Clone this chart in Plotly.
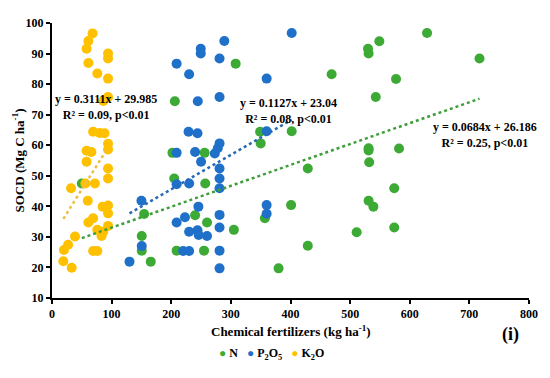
import plotly.graph_objects as go

# ---- data ----
n_x = [50, 150.5, 150.5, 154.5, 165.6, 202, 205, 206, 209, 240, 255, 256, 257, 260, 305, 308,
       349, 350, 357, 380, 401, 402, 429, 429, 469, 511, 530, 531, 531, 531, 532, 531, 539,
       543, 549, 574, 574, 577, 582, 629, 717]
n_y = [47.5, 30.3, 25.5, 37.5, 21.9, 57.5, 49.1, 74.4, 25.5, 37.1, 25.5, 57.5, 47.5, 34.7, 32.3, 86.7,
       64.4, 60.6, 36.1, 19.7, 40.4, 64.6, 52.4, 27.1, 83.2, 31.5, 91.6, 90.0, 59.0, 58.3, 54.4, 41.8, 39.9,
       75.8, 94.0, 45.9, 33.1, 81.7, 58.9, 96.7, 88.4]

p_x = [130, 150.5, 150, 209, 209, 209, 209, 220, 223, 230, 230, 230, 230, 240, 229, 244, 244.5,
       244, 245.5, 246, 249.5, 249.5, 250, 260, 273, 278, 281, 281, 281, 281, 281, 281, 281, 281,
       281, 281, 289, 360, 360, 360, 360, 402]
p_y = [21.9, 27.0, 41.8, 86.7, 57.5, 47.2, 34.7, 25.4, 36.4, 83.2, 47.5, 31.7, 25.4, 57.8, 64.4, 63.9, 74.4,
       32.2, 39.9, 30.6, 91.6, 90.0, 54.6, 30.3, 57.3, 59.0, 60.6, 88.4, 75.8, 52.4, 49.1, 45.9, 37.2, 33.1,
       25.5, 19.7, 94.1, 81.8, 64.6, 40.4, 37.6, 96.7]

k_x = [68, 61, 58, 94, 94, 61, 76, 94, 94, 86, 69, 80, 88, 94, 94, 58, 66, 58, 94, 94, 56, 72,
       32, 60, 85, 94, 94, 69, 61, 94, 76, 86, 83, 38.6, 27, 20, 69, 76, 19, 33]
k_y = [96.6, 94.1, 91.6, 90.0, 88.4, 86.9, 83.5, 81.8, 75.8, 74.5, 64.4, 64.0, 63.9, 60.5, 58.6, 58.2, 57.8,
       54.6, 52.4, 49.1, 47.5, 47.5, 45.9, 41.8, 39.9, 40.3, 37.7, 36.1, 34.7, 33.6, 32.3, 31.7, 30.3,
       30.1, 27.4, 25.7, 25.4, 25.4, 22.0, 19.9]

# trendline coefficients (slope, intercept) as printed on the chart
n_fit = (0.0684, 26.186)
p_fit = (0.1127, 23.04)
k_fit = (0.3111, 29.985)

n_label = "y = 0.0684x + 26.186<br>R² = 0.25, p<0.01"
p_label = "y = 0.1127x + 23.04<br>R² = 0.08, p<0.01"
k_label = "y = 0.3111x + 29.985<br>R² = 0.09, p<0.01"

series_names = ["N", "P<sub>2</sub>O<sub>5</sub>", "K<sub>2</sub>O"]

x_ticks = [0, 100, 200, 300, 400, 500, 600, 700, 800]
y_ticks = [10, 20, 30, 40, 50, 60, 70, 80, 90, 100]

GREEN = "#3DAA35"
BLUE = "#1F70C8"
YELLOW = "#FFC000"
FONT = "Liberation Serif"

fig = go.Figure()

series = [
    (series_names[0], n_x, n_y, GREEN),
    (series_names[1], p_x, p_y, BLUE),
    (series_names[2], k_x, k_y, YELLOW),
]
for name, xs, ys, col in series:
    fig.add_trace(go.Scatter(x=xs, y=ys, mode="markers", name=name, showlegend=False,
                             marker=dict(color=col, size=10, line=dict(width=0))))

# trendlines
lines = [(n_x, n_fit, "#3E9E38"), (p_x, p_fit, "#2A6AB5"), (k_x, k_fit, "#EDBE45")]
for xs, (m, b), col in lines:
    x0, x1 = min(xs), max(xs)
    fig.add_trace(go.Scatter(x=[x0, x1], y=[m * x0 + b, m * x1 + b], mode="lines",
                             showlegend=False, hoverinfo="skip",
                             line=dict(color=col, width=2.5, dash="dot")))

ann_font = dict(family=FONT, size=12, color="black")
fig.add_annotation(x=91, y=72.6, text=f"<b>{k_label}</b>", showarrow=False, font=ann_font, align="center")
fig.add_annotation(x=396, y=71.2, text=f"<b>{p_label}</b>", showarrow=False, font=ann_font, align="center")
fig.add_annotation(x=727, y=63.5, text=f"<b>{n_label}</b>", showarrow=False, font=ann_font, align="center")
fig.add_annotation(x=0.983, y=-0.178, xref="paper", yref="paper", text="<b>(i)</b>", showarrow=False,
                   font=dict(family=FONT, size=18, color="black"))

# axis titles
title_font = dict(family=FONT, size=13, color="black")
fig.add_annotation(x=0.5, y=-0.12, xref="paper", yref="paper", xanchor="center", yanchor="middle",
                   text="<b>Chemical fertilizers (kg ha<sup>-1</sup>)</b>", showarrow=False, font=title_font)
fig.add_annotation(x=-0.0713, y=0.5, xref="paper", yref="paper", xanchor="center", yanchor="middle",
                   textangle=-90, text="<b>SOCD (Mg C ha<sup>-1</sup>)</b>", showarrow=False, font=title_font)

# compact legend as a single line of text with coloured dots
legend_text = "   ".join(
    f"<span style='color:{col};font-size:12px'>●</span> <b>{name}</b>" for name, _, _, col in series
)
fig.add_annotation(x=0.46, y=-0.203, xref="paper", yref="paper", text=legend_text, showarrow=False,
                   xanchor="center", yanchor="middle", font=dict(family=FONT, size=12, color="black"))

axis_common = dict(showgrid=False, zeroline=False, showline=True, linecolor="black", linewidth=2,
                   ticks="outside", ticklen=4, tickwidth=1.5, tickcolor="black", automargin=False,
                   tickfont=dict(family=FONT, size=12, color="black"))

fig.update_xaxes(range=[0, 800], tickvals=x_ticks, ticktext=[f"<b>{v}</b>" for v in x_ticks],
                 **axis_common)
fig.update_yaxes(range=[10, 100], tickvals=y_ticks, ticktext=[f"<b>{v}</b>" for v in y_ticks],
                 **axis_common)

# the page body adds an 8px margin, so the figure is sized to fill the 550x378 window exactly
fig.update_layout(
    width=534, height=362,
    margin=dict(l=44, r=13, t=15, b=72),
    paper_bgcolor="white", plot_bgcolor="white",
    font=dict(family=FONT, color="black"),
    showlegend=False,
    hovermode=False,
)

fig.write_html("out.html")
